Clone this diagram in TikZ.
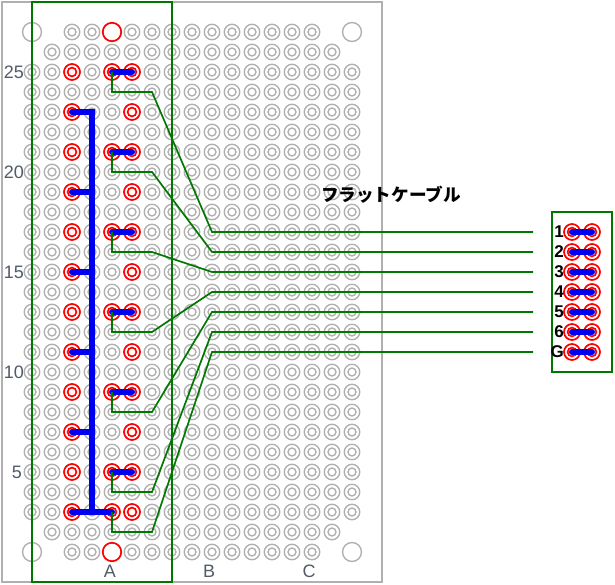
\documentclass[tikz,border=0pt]{standalone}
\usepackage{fontspec}
\setmainfont{Liberation Sans}
\newfontfamily\cjkfont{Noto Sans CJK JP}
\definecolor{holegray}{RGB}{176,176,176}
\definecolor{wiregreen}{RGB}{0,120,0}
\definecolor{tapeblue}{RGB}{0,0,240}
\definecolor{labelgray}{RGB}{80,90,105}
\tikzset{
  hole/.style={circle,draw=holegray,line width=1.4pt,minimum size=15.5pt,inner sep=0pt},
  bighole/.style={hole,minimum size=19pt},
  padhole/.style={hole,draw=red,fill=white,line width=1.7pt,minimum size=16pt},
  bigpad/.style={padhole,minimum size=18.5pt},
  tape/.style={line width=6pt,draw=tapeblue,line cap=round},
  wire/.style={line width=1.7pt,draw=wiregreen},
  frame/.style={line width=2pt,draw=wiregreen},
  rowlabel/.style={font=\fontsize{18}{18}\selectfont,text=labelgray,inner sep=0pt},
  pinlabel/.style={font=\fontsize{17}{17}\selectfont\bfseries,anchor=east,inner sep=0pt},
}
\begin{document}
\begin{tikzpicture}[x=1pt,y=-1pt]
  \useasboundingbox (0,0) rectangle (615,585);

  % Drawing the board
  \draw [holegray,line width=1.5pt] (2,2) rectangle (382,582);

  % Marking the plain holes
  \foreach \y in {72,92,...,512}
    \foreach \x in {32,52,...,352} {
      \node [hole] (h\x-\y) at (\x,\y) {};
      \draw [holegray,line width=1.4pt] (h\x-\y.center) circle (4);
    }
  \foreach \y in {52,532}
    \foreach \x in {52,72,...,332} {
      \node [hole] (h\x-\y) at (\x,\y) {};
      \draw [holegray,line width=1.4pt] (h\x-\y.center) circle (4);
    }
  \foreach \y in {32,552}
    \foreach \x in {72,92,132,152,...,312} {
      \node [hole] (h\x-\y) at (\x,\y) {};
      \draw [holegray,line width=1.4pt] (h\x-\y.center) circle (4);
    }

  % Marking the mounting holes
  \node [bighole] (mountA) at (32,32) {};
  \node [bighole] (mountB) at (352,32) {};
  \node [bighole] (mountC) at (32,552) {};
  \node [bighole] (mountD) at (352,552) {};
  \node [bigpad] (mountE) at (112,32) {};
  \node [bigpad] (mountF) at (112,552) {};

  % Marking the pads on the board
  \foreach \y in {72,112,...,512} {
    \node [padhole] (p72-\y) at (72,\y) {};
    \draw [red,line width=1.7pt] (p72-\y.center) circle (4.4);
    \node [padhole] (p132-\y) at (132,\y) {};
    \draw [red,line width=1.7pt] (p132-\y.center) circle (4.4);
  }
  \foreach \y in {72,152,232,312,392,472,512} {
    \node [padhole] (p112-\y) at (112,\y) {};
    \draw [red,line width=1.7pt] (p112-\y.center) circle (4.4);
  }

  % Marking the pads of the connector
  \node [frame,draw,minimum width=60pt,minimum height=160pt,inner sep=0pt] (plug) at (582,292) {};
  \foreach \y/\t in {232/1,252/2,272/3,292/4,312/5,332/6,352/G} {
    \node [padhole] (q572-\y) at (572,\y) {};
    \node [padhole] (q592-\y) at (592,\y) {};
    \draw [red,line width=1.7pt] (q572-\y.center) circle (4.4);
    \draw [red,line width=1.7pt] (q592-\y.center) circle (4.4);
    \node [pinlabel] (pin\t) at (564,\y) {\t};
    \draw [tape] (q572-\y.center) -- (q592-\y.center);
  }

  % Drawing the green frame
  \node [frame,draw,minimum width=140pt,minimum height=580pt,inner sep=0pt] (boxA) at (102,292) {};

  % Drawing the blue tape
  \draw [tape] (p72-112.center) -- (92,112) -- (92,512);
  \foreach \y in {192,272,352,432}
    \draw [tape] (p72-\y.center) -- (92,\y);
  \draw [tape] (p72-512.center) -- (p112-512.center);
  \foreach \y in {72,152,232,312,392,472}
    \draw [tape] (p112-\y.center) -- (p132-\y.center);

  % Drawing the flat cable
  \foreach \a/\b/\t in {72/232/1,152/252/2,232/272/3,312/292/4,392/312/5,472/332/6,512/352/G} {
    \coordinate (end\t) at (533,\b);
    \draw [wire] (p112-\a.center) -- (112,\a+20) -- (152,\a+20) -- (212,\b) -- (end\t);
  }

  % Labels
  \foreach \y/\t in {72/25,172/20,272/15,372/10}
    \node [rowlabel] (row\t) at (14,\y) {\t};
  \node [rowlabel] (row5) at (17,472) {5};
  \node [rowlabel] (colA) at (110,571) {A};
  \node [rowlabel] (colB) at (209,571) {B};
  \node [rowlabel] (colC) at (309,571) {C};
  \node [font=\cjkfont\bfseries\fontsize{17.6}{18}\selectfont,inner sep=0pt] (cable) at (391,195) {フラットケーブル};
\end{tikzpicture}
\end{document}
